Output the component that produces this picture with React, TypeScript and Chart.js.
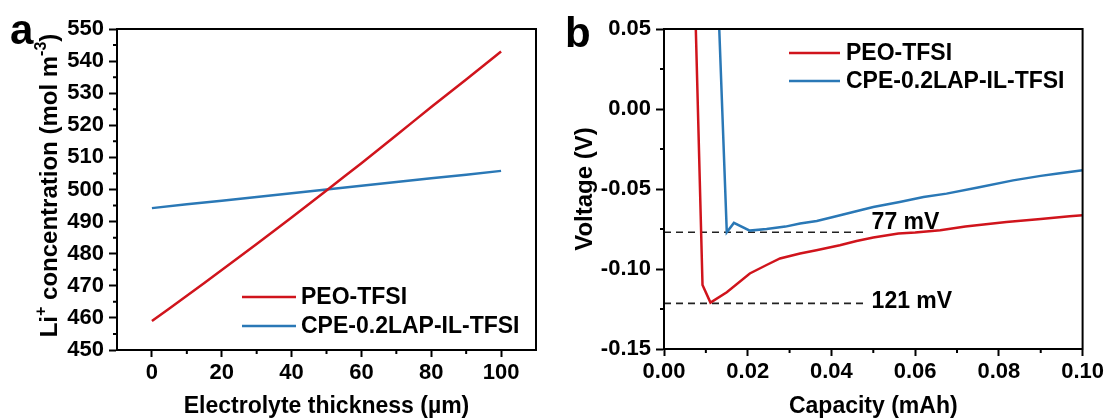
import React, { useEffect, useRef } from "react";
import { Chart, registerables } from "chart.js";

Chart.register(...registerables);

// ---------- Panel a data ----------
const thicknessA = [0, 10, 20, 30, 40, 50, 60, 70, 80, 90, 100];
const peoA = [459.0, 466.9, 474.9, 483.0, 491.3, 499.7, 508.2, 516.9, 525.7, 534.3, 543.0];
const cpeA = [494.2, 495.4, 496.5, 497.7, 498.8, 500.0, 501.2, 502.3, 503.5, 504.6, 505.8];
const xTicksA = [0, 20, 40, 60, 80, 100];
const xMinorA = [10, 30, 50, 70, 90];
const yTicksA = [450, 460, 470, 480, 490, 500, 510, 520, 530, 540, 550];
const yMinorA = [455, 465, 475, 485, 495, 505, 515, 525, 535, 545];

// ---------- Panel b data ----------
const peoCapB = [0.0076, 0.0092, 0.0111, 0.0150, 0.0205, 0.0245, 0.0277, 0.0325, 0.0364, 0.0420, 0.0460, 0.0500, 0.0560, 0.0600, 0.0660, 0.0720, 0.0818, 0.0900, 0.0969, 0.1000];
const peoVoltB = [0.050, -0.110, -0.121, -0.1145, -0.1028, -0.0975, -0.0934, -0.0903, -0.0883, -0.0851, -0.0825, -0.0803, -0.0778, -0.0772, -0.0758, -0.0735, -0.0706, -0.0688, -0.0670, -0.0664];
const cpeCapB = [0.0132, 0.0150, 0.0167, 0.0205, 0.0245, 0.0290, 0.0325, 0.0365, 0.0404, 0.0452, 0.0500, 0.0563, 0.0620, 0.0675, 0.0750, 0.0834, 0.0900, 0.0937, 0.1000];
const cpeVoltB = [0.050, -0.077, -0.0712, -0.0760, -0.0750, -0.0735, -0.0716, -0.0700, -0.0675, -0.0644, -0.0612, -0.0581, -0.0550, -0.0529, -0.0490, -0.0446, -0.0418, -0.0404, -0.0383];
const xTicksB = [0, 0.02, 0.04, 0.06, 0.08, 0.1];
const xMinorB = [0.01, 0.03, 0.05, 0.07, 0.09];
const yTicksB = [-0.15, -0.1, -0.05, 0, 0.05];
const yMinorB = [-0.125, -0.075, -0.025, 0.025];
const refLevelsB = [-0.077, -0.1215];
const refLabelsB = ["77 mV", "121 mV"];
const refEndCapB = 0.0484;

const seriesNames = ["PEO-TFSI", "CPE-0.2LAP-IL-TFSI"];
const RED = "#d0141c";
const BLUE = "#2a78b6";
const FONT = "'Liberation Sans', Arial, sans-serif";

const W = 1107;
const H = 418;
const WA = 553;
const WB = W - WA;

function zip(xs: number[], ys: number[]) {
  return xs.map((x, i) => ({ x, y: ys[i] }));
}

function framePlugin(xMinor: number[], yMinor: number[]) {
  return {
    id: "frame",
    afterDraw(chart: any) {
      const { ctx, chartArea } = chart;
      const { left, right, top, bottom } = chartArea;
      const xs = chart.scales.x;
      const ys = chart.scales.y;
      ctx.save();
      ctx.strokeStyle = "#000";
      ctx.lineWidth = 2;
      ctx.strokeRect(left, top, right - left, bottom - top);
      ctx.beginPath();
      xMinor.forEach((v) => {
        const p = xs.getPixelForValue(v);
        ctx.moveTo(p, bottom);
        ctx.lineTo(p, bottom + 4);
      });
      yMinor.forEach((v) => {
        const p = ys.getPixelForValue(v);
        ctx.moveTo(left, p);
        ctx.lineTo(left - 4, p);
      });
      ctx.stroke();
      ctx.restore();
    },
  };
}

type LegendSpec = { x1: number; x2: number; tx: number; rows: number[] };

function decorPlugin(
  letter: string,
  letterX: number,
  letterY: number,
  legend: LegendSpec,
  extra?: (chart: any) => void
) {
  return {
    id: "decor",
    afterDraw(chart: any) {
      const { ctx } = chart;
      ctx.save();
      ctx.fillStyle = "#000";
      ctx.font = `bold 42px ${FONT}`;
      ctx.textBaseline = "alphabetic";
      ctx.textAlign = "left";
      ctx.fillText(letter, letterX, letterY);
      // legend
      chart.data.datasets.forEach((ds: any, i: number) => {
        if (i >= legend.rows.length) return;
        const y = legend.rows[i];
        ctx.strokeStyle = ds.borderColor;
        ctx.lineWidth = 2.6;
        ctx.setLineDash([]);
        ctx.beginPath();
        ctx.moveTo(legend.x1, y);
        ctx.lineTo(legend.x2, y);
        ctx.stroke();
        ctx.fillStyle = "#000";
        ctx.font = `bold 23px ${FONT}`;
        ctx.textBaseline = "middle";
        ctx.fillText(ds.label, legend.tx, y + 1);
      });
      if (extra) extra(chart);
      ctx.restore();
    },
  };
}

function tickFont() {
  return { family: FONT, size: 22, weight: "bold" as const };
}

function baseScale(min: number, max: number, ticks: number[], fmt: (v: number) => string, isX: boolean, size: number) {
  return {
    type: "linear" as const,
    min,
    max,
    afterBuildTicks: (s: any) => {
      s.ticks = ticks.map((v) => ({ value: v }));
    },
    afterFit: (s: any) => {
      if (isX) s.height = size;
      else s.width = size;
    },
    ticks: {
      autoSkip: false,
      maxRotation: 0,
      color: "#000",
      font: tickFont(),
      padding: isX ? 3 : 5,
      callback: (v: any) => fmt(Number(v)),
    },
    grid: {
      drawOnChartArea: false,
      drawTicks: true,
      tickLength: isX ? 7 : 8,
      tickWidth: 2,
      tickColor: "#000",
      color: "#000",
    },
    border: { display: true, color: "#000", width: 2 },
  };
}

function configA(): any {
  const decor = decorPlugin(
    "a",
    10,
    44,
    { x1: 242, x2: 296, tx: 301, rows: [297, 326] },
    (chart: any) => {
      const { ctx, chartArea } = chart;
      const cy = (chartArea.top + chartArea.bottom) / 2 - 4;
      const parts: [string, boolean][] = [
        ["Li", false],
        ["+", true],
        [" concentration (mol m", false],
        ["-3", true],
        [")", false],
      ];
      const big = `bold 24px ${FONT}`;
      const small = `bold 16px ${FONT}`;
      let total = 0;
      parts.forEach(([t, sup]) => {
        ctx.font = sup ? small : big;
        total += ctx.measureText(t).width;
      });
      ctx.save();
      ctx.translate(57, cy);
      ctx.rotate(-Math.PI / 2);
      ctx.fillStyle = "#000";
      ctx.textAlign = "left";
      ctx.textBaseline = "alphabetic";
      let x = -total / 2;
      parts.forEach(([t, sup]) => {
        ctx.font = sup ? small : big;
        ctx.fillText(t, x, sup ? -11 : 0);
        x += ctx.measureText(t).width;
      });
      ctx.restore();
    }
  );
  const xs: any = baseScale(-10, 110, xTicksA, (v) => String(v), true, H - 350);
  xs.title = {
    display: true,
    text: "Electrolyte thickness (µm)",
    color: "#000",
    font: { family: FONT, size: 23, weight: "bold", lineHeight: 1 },
    padding: { top: 0, bottom: 0 },
  };
  const ys: any = baseScale(450, 550, yTicksA, (v) => String(v), false, 117);
  return {
    type: "line",
    data: {
      datasets: [
        { label: seriesNames[0], data: zip(thicknessA, peoA), borderColor: RED, borderWidth: 2.5, pointRadius: 0, tension: 0.3, fill: false },
        { label: seriesNames[1], data: zip(thicknessA, cpeA), borderColor: BLUE, borderWidth: 2.5, pointRadius: 0, tension: 0, fill: false },
      ],
    },
    options: {
      responsive: false,
      animation: false,
      devicePixelRatio: 1,
      layout: { padding: { left: 0, right: WA - 536, top: 29, bottom: 0 } },
      plugins: { legend: { display: false }, tooltip: { enabled: false } },
      scales: { x: xs, y: ys },
    },
    plugins: [framePlugin(xMinorA, yMinorA), decor],
  };
}

function configB(): any {
  const decor = decorPlugin(
    "b",
    12,
    47,
    { x1: 236, x2: 287, tx: 293, rows: [53, 81] },
    (chart: any) => {
      const { ctx } = chart;
      const xs = chart.scales.x;
      const ys = chart.scales.y;
      ctx.fillStyle = "#000";
      ctx.font = `bold 23px ${FONT}`;
      ctx.textAlign = "left";
      ctx.textBaseline = "middle";
      const offsets = [-10, -2];
      refLevelsB.forEach((lv, i) => {
        const px = xs.getPixelForValue(refEndCapB) + 5;
        const py = ys.getPixelForValue(lv) + offsets[i];
        ctx.fillText(refLabelsB[i], px, py);
      });
    }
  );
  const fmt = (v: number) => (Math.abs(v) < 1e-9 ? "0.00" : v.toFixed(2));
  const xs: any = baseScale(0, 0.1, xTicksB, fmt, true, H - 349);
  xs.title = {
    display: true,
    text: "Capacity (mAh)",
    color: "#000",
    font: { family: FONT, size: 23, weight: "bold", lineHeight: 1 },
    padding: { top: 0, bottom: 0 },
  };
  const ys: any = baseScale(-0.15, 0.05, yTicksB, fmt, false, 664 - WA);
  ys.title = {
    display: true,
    text: "Voltage (V)",
    color: "#000",
    font: { family: FONT, size: 24, weight: "bold", lineHeight: 1 },
    padding: { top: 20, bottom: 0 },
  };
  const refSets = refLevelsB.map((lv, i) => ({
    label: refLabelsB[i],
    data: [
      { x: 0, y: lv },
      { x: refEndCapB, y: lv },
    ],
    borderColor: "#222",
    borderWidth: 1.6,
    borderDash: [7, 5],
    pointRadius: 0,
    fill: false,
  }));
  return {
    type: "line",
    data: {
      datasets: [
        { label: seriesNames[0], data: zip(peoCapB, peoVoltB), borderColor: RED, borderWidth: 2.5, pointRadius: 0, tension: 0, fill: false },
        { label: seriesNames[1], data: zip(cpeCapB, cpeVoltB), borderColor: BLUE, borderWidth: 2.5, pointRadius: 0, tension: 0, fill: false },
        ...refSets,
      ],
    },
    options: {
      responsive: false,
      animation: false,
      devicePixelRatio: 1,
      layout: { padding: { left: 0, right: WB - (1083 - WA), top: 29, bottom: 0 } },
      plugins: { legend: { display: false }, tooltip: { enabled: false } },
      scales: { x: xs, y: ys },
    },
    plugins: [framePlugin(xMinorB, yMinorB), decor],
  };
}

export default function App() {
  const refA = useRef<HTMLCanvasElement>(null);
  const refB = useRef<HTMLCanvasElement>(null);
  useEffect(() => {
    const a = new Chart(refA.current!, configA());
    const b = new Chart(refB.current!, configB());
    return () => {
      a.destroy();
      b.destroy();
    };
  }, []);
  return (
    <div style={{ position: "fixed", left: 0, top: 0, width: W, height: H, background: "#fff" }}>
      <div style={{ position: "absolute", left: 0, top: 0, width: WA, height: H }}>
        <canvas ref={refA} width={WA} height={H} style={{ display: "block" }} />
      </div>
      <div style={{ position: "absolute", left: WA, top: 0, width: WB, height: H }}>
        <canvas ref={refB} width={WB} height={H} style={{ display: "block" }} />
      </div>
    </div>
  );
}
